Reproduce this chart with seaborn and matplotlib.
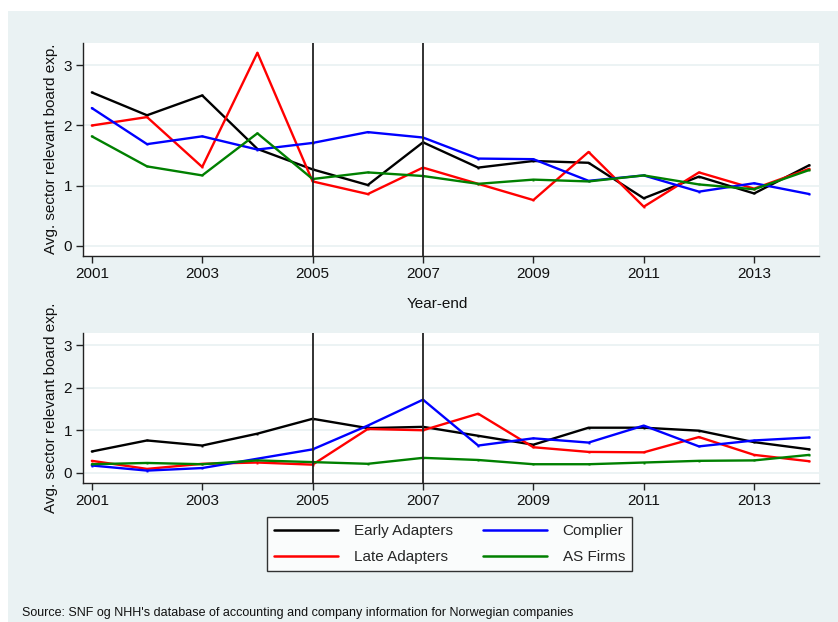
import matplotlib
matplotlib.use("Agg")
import matplotlib.pyplot as plt
import seaborn as sns
import pandas as pd
from matplotlib.patches import Rectangle

years = list(range(2001, 2015))
groups = ["Early Adapters", "Late Adapters", "Complier", "AS Firms"]

# Panel 1
early_top = [2.55, 2.17, 2.50, 1.61, 1.27, 1.01, 1.72, 1.30, 1.41, 1.38, 0.79, 1.15, 0.87, 1.34]
late_top = [2.00, 2.14, 1.31, 3.21, 1.07, 0.86, 1.30, 1.03, 0.76, 1.56, 0.65, 1.22, 0.95, 1.28]
complier_top = [2.29, 1.69, 1.82, 1.60, 1.71, 1.89, 1.80, 1.45, 1.44, 1.08, 1.17, 0.90, 1.04, 0.86]
as_top = [1.82, 1.32, 1.17, 1.87, 1.11, 1.22, 1.16, 1.03, 1.10, 1.07, 1.17, 1.02, 0.94, 1.26]

# Panel 2
early_bot = [0.50, 0.76, 0.64, 0.92, 1.27, 1.05, 1.08, 0.87, 0.66, 1.06, 1.06, 0.99, 0.72, 0.55]
late_bot = [0.28, 0.09, 0.21, 0.24, 0.19, 1.03, 1.00, 1.39, 0.60, 0.49, 0.48, 0.84, 0.42, 0.27]
complier_bot = [0.17, 0.05, 0.11, 0.33, 0.55, 1.11, 1.72, 0.64, 0.81, 0.71, 1.11, 0.62, 0.76, 0.83]
as_bot = [0.20, 0.23, 0.20, 0.29, 0.25, 0.21, 0.35, 0.30, 0.20, 0.20, 0.24, 0.28, 0.29, 0.42]

xticks = [2001, 2003, 2005, 2007, 2009, 2011, 2013]
yticks = [0, 1, 2, 3]
event_years = [2005, 2007]

palette = {"Early Adapters": "#000000", "Late Adapters": "#FF0000",
           "Complier": "#0000FF", "AS Firms": "#008000"}
bg = "#EAF2F3"


def long_frame(series):
    rows = []
    for g, vals in zip(groups, series):
        for y, v in zip(years, vals):
            rows.append({"year": y, "value": v, "group": g})
    return pd.DataFrame(rows)


sns.set_theme(style="white")
plt.rcParams["font.family"] = ["Liberation Sans", "DejaVu Sans"]

W, H = 838, 622
fig = plt.figure(figsize=(W / 100, H / 100), dpi=100, facecolor="white")
fig.patches.append(Rectangle((8 / W, 0), 1, 1 - 11 / H, transform=fig.transFigure,
                             facecolor=bg, edgecolor="none", zorder=-10))


def px_axes(x0, y0, x1, y1):
    return fig.add_axes([x0 / W, 1 - y1 / H, (x1 - x0) / W, (y1 - y0) / H])


ax_top = px_axes(83, 42.5, 818.7, 256)
ax_bot = px_axes(83, 333, 818.7, 482.7)

panels = [
    (ax_top, [early_top, late_top, complier_top, as_top], (-0.17, 3.38)),
    (ax_bot, [early_bot, late_bot, complier_bot, as_bot], (-0.235, 3.29)),
]

for ax, series, ylim in panels:
    df = long_frame(series)
    ax.set_facecolor("white")
    for t in yticks:
        ax.axhline(t, color=bg, lw=1.3, zorder=0)
    sns.lineplot(data=df, x="year", y="value", hue="group", hue_order=groups,
                 palette=palette, lw=1.7, marker="s", markersize=1.4,
                 markeredgewidth=0, ax=ax, legend=False, zorder=3)
    for ev in event_years:
        ax.axvline(ev, color="#222222", lw=1.3, zorder=4)
    ax.set_xlim(2000.84, 2014.17)
    ax.set_ylim(*ylim)
    ax.set_xticks(xticks)
    ax.set_yticks(yticks)
    ax.set_xlabel("")
    ax.set_ylabel("Avg. sector relevant board exp.", fontsize=11, color="#111111", labelpad=4)
    for s in ["top", "right"]:
        ax.spines[s].set_visible(False)
    for s in ["left", "bottom"]:
        ax.spines[s].set_color("#222222")
        ax.spines[s].set_linewidth(1.0)
    ax.tick_params(axis="both", which="major", direction="out", length=5, width=1.0,
                   color="#222222", labelsize=11, labelcolor="#111111", pad=3,
                   left=True, bottom=True)

fig.text(437.5 / W, 1 - 304 / H, "Year-end", ha="center", va="center",
         fontsize=11, color="#111111")

handles = [plt.Line2D([], [], color=palette[g], lw=1.8) for g in
           ["Early Adapters", "Late Adapters", "Complier", "AS Firms"]]
labels = ["Early Adapters", "Late Adapters", "Complier", "AS Firms"]
leg = fig.legend(handles, labels, ncol=2, loc="center",
                 bbox_to_anchor=(449.5 / W, 1 - 544 / H), frameon=True,
                 fontsize=11, handlelength=4.2, handletextpad=1.0,
                 columnspacing=2.0, labelspacing=0.8, borderpad=0.45,
                 fancybox=False, edgecolor="black")
leg.get_frame().set_linewidth(1.0)
leg.get_frame().set_facecolor("white")

fig.text(22 / W, 1 - 613 / H,
         "Source: SNF og NHH's database of accounting and company information for Norwegian companies",
         ha="left", va="center", fontsize=9, color="#111111")

fig.savefig("out.png", dpi=100, facecolor="white")
